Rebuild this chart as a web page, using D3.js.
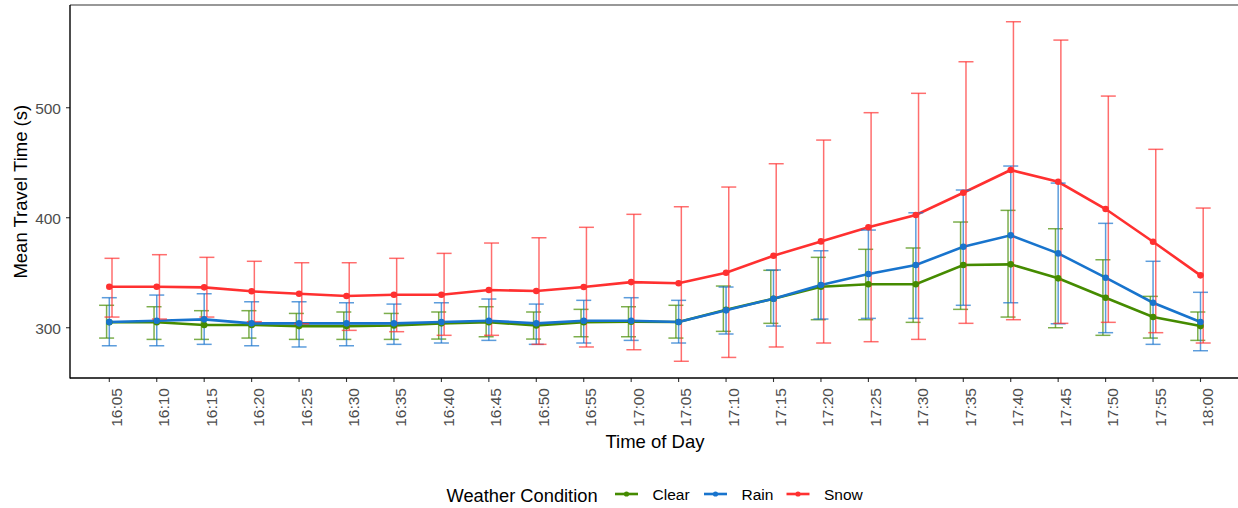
<html>
<head>
    <meta http-equiv="content-type" content="text/html; charset=UTF8">
    <script type="text/javascript" src="https://cdn.jsdelivr.net/npm/d3@7"></script>
    <style>
        body { margin: 0; background: #fff; }
        text { font-family: "Liberation Sans", Arial, sans-serif; }
    </style>
</head>
<body>
<div id="chart"></div>
<script>
    // data
    var times = ["16:05","16:10","16:15","16:20","16:25","16:30","16:35","16:40","16:45","16:50","16:55","17:00",
                 "17:05","17:10","17:15","17:20","17:25","17:30","17:35","17:40","17:45","17:50","17:55","18:00"];

    var clearMean = [305, 305, 302.5, 302.5, 301.5, 301.5, 302, 304, 305, 302, 305, 305.5,
                     305.2, 316.4, 326.4, 337.3, 339.5, 339.5, 357, 357.6, 344.9, 327.3, 309.7, 301.5];
    var clearLo   = [290.6, 289.4, 289.4, 290.6, 289.4, 289.4, 289.4, 289.7, 291.8, 289.7, 291.8, 291.8,
                     290.6, 296.7, 304, 307.3, 307.3, 304.9, 316.7, 309.7, 300, 293.1, 290.6, 288.5];
    var clearHi   = [320.4, 319.1, 315.5, 315.5, 313, 314.3, 313, 314.3, 319.1, 314.3, 316.7, 319.1,
                     320.4, 337.9, 352.2, 364, 371.3, 372.5, 396.1, 406.7, 390, 361.8, 328.5, 314.3];

    var rainMean = [305.2, 306.4, 307.6, 304, 304, 304, 304, 305.2, 306.4, 304, 306.4, 306.4,
                    305.2, 315.8, 326.4, 338.8, 348.8, 357, 373.6, 384, 367.6, 345.5, 322.7, 305.2];
    var rainLo   = [283.6, 283.6, 284.9, 283.6, 282.5, 283.6, 284.9, 286.1, 288.5, 284.9, 286.1, 288.5,
                    286.1, 294.3, 301.5, 307.9, 308.5, 308.5, 320.4, 322.7, 303.6, 295.5, 284.9, 279.1];
    var rainHi   = [327.3, 329.7, 330.9, 323.6, 323.6, 322.7, 321.5, 322.7, 326.1, 321.5, 324.9, 327.3,
                    324.9, 337, 352.5, 370, 388.8, 404.5, 425.2, 447, 431.5, 394.9, 360.4, 332.2];

    var snowMean = [337.3, 337.3, 336.7, 333.1, 330.9, 328.8, 330, 330, 334.3, 333.4, 337, 341.5,
                    340.4, 350, 365.5, 378.5, 391.3, 402.5, 422.7, 443.4, 432.7, 407.9, 378.2, 347.6];
    var snowLo   = [309.7, 307.9, 309.7, 305.5, 303.6, 297.6, 296.4, 293.1, 293.1, 284.9, 282.5, 280,
                    269.5, 273, 282.5, 286.1, 287.3, 289.4, 304, 307.3, 304, 304.9, 295.5, 286.1];
    var snowHi   = [363.1, 366.4, 364, 360.4, 359.1, 359.1, 363.1, 367.6, 377, 381.8, 391.3, 403.1,
                    410, 427.9, 449.1, 470.6, 495.5, 513.1, 541.8, 578.2, 561.5, 510.6, 462.2, 408.8];

    var conditions = ["Clear", "Rain", "Snow"];
    var yTicks = [300, 400, 500];

    // view settings (note: "top" is taken by window.top, so use other names)
    var chartW = 1238;
    var chartH = 508;
    var panelLeft = 70, panelTop = 5, panelBottom = 378;
    var colors = { Clear: "#458B00", Rain: "#1874CD", Snow: "#FF3030" };
    var dodge = { Clear: -2.7, Rain: 0, Snow: 2.7 };

    var series = [
        { name: "Clear", mean: clearMean, lo: clearLo, hi: clearHi },
        { name: "Rain",  mean: rainMean,  lo: rainLo,  hi: rainHi },
        { name: "Snow",  mean: snowMean,  lo: snowLo,  hi: snowHi }
    ];

    var x = d3.scalePoint().domain(times).range([109.3, 1200.5]);
    var y = d3.scaleLinear().domain([254.3, 593.4]).range([panelBottom, panelTop]);

    var svg = d3.select("#chart")
        .append("svg")
        .attr("width", chartW)
        .attr("height", chartH);

    // panel border (top)
    svg.append("line")
        .attr("x1", panelLeft).attr("x2", chartW + 5)
        .attr("y1", panelTop).attr("y2", panelTop)
        .attr("stroke", "#333").attr("stroke-width", 1.2);

    // x ticks + labels
    var xAxis = svg.append("g");
    xAxis.selectAll("line")
        .data(times).enter().append("line")
        .attr("x1", function(d) { return x(d); })
        .attr("x2", function(d) { return x(d); })
        .attr("y1", panelBottom).attr("y2", panelBottom + 4)
        .attr("stroke", "#333").attr("stroke-width", 1.1);
    xAxis.selectAll("text")
        .data(times).enter().append("text")
        .attr("transform", function(d) { return "translate(" + (x(d) + 12.5) + "," + 388 + ") rotate(-90)"; })
        .attr("text-anchor", "end")
        .attr("font-size", "15.5px")
        .attr("fill", "#4d4d4d")
        .text(function(d) { return d; });

    // y ticks + labels
    var yAxis = svg.append("g");
    yAxis.selectAll("line")
        .data(yTicks).enter().append("line")
        .attr("x1", panelLeft - 4).attr("x2", panelLeft)
        .attr("y1", function(d) { return y(d); })
        .attr("y2", function(d) { return y(d); })
        .attr("stroke", "#333").attr("stroke-width", 1.1);
    yAxis.selectAll("text")
        .data(yTicks).enter().append("text")
        .attr("x", panelLeft - 9)
        .attr("y", function(d) { return y(d); })
        .attr("dy", "0.42em")
        .attr("text-anchor", "end")
        .attr("font-size", "15.5px")
        .attr("fill", "#4d4d4d")
        .text(function(d) { return d; });

    svg.append("line")
        .attr("x1", panelLeft).attr("x2", panelLeft)
        .attr("y1", panelTop).attr("y2", panelBottom + 0.5)
        .attr("stroke", "#000").attr("stroke-width", 1.4);
    svg.append("line")
        .attr("x1", panelLeft).attr("x2", chartW + 5)
        .attr("y1", panelBottom).attr("y2", panelBottom)
        .attr("stroke", "#000").attr("stroke-width", 1.4);

    // titles
    svg.append("text")
        .attr("x", 655).attr("y", 448)
        .attr("text-anchor", "middle")
        .attr("font-size", "18.5px")
        .attr("fill", "#000")
        .text("Time of Day");
    svg.append("text")
        .attr("transform", "translate(26.5,191.7) rotate(-90)")
        .attr("text-anchor", "middle")
        .attr("font-size", "18.5px")
        .attr("fill", "#000")
        .text("Mean Travel Time (s)");

    var line = d3.line()
        .x(function(d, i) { return x(times[i]); })
        .y(function(d) { return y(d); });

    // lines
    svg.selectAll("path.series")
        .data(series).enter().append("path")
        .attr("class", "series")
        .attr("d", function(s) { return line(s.mean); })
        .attr("fill", "none")
        .attr("stroke", function(s) { return colors[s.name]; })
        .attr("stroke-width", 2.6);

    // error bars
    series.forEach(function(s) {
        var g = svg.append("g")
            .attr("stroke", colors[s.name])
            .attr("stroke-opacity", 0.7)
            .attr("stroke-width", 1.5);
        var bars = g.selectAll("g").data(times).enter().append("g");
        bars.append("line")
            .attr("x1", function(d) { return x(d) + dodge[s.name]; })
            .attr("x2", function(d) { return x(d) + dodge[s.name]; })
            .attr("y1", function(d, i) { return y(s.lo[i]); })
            .attr("y2", function(d, i) { return y(s.hi[i]); });
        bars.append("line")
            .attr("x1", function(d) { return x(d) + dodge[s.name] - 7.5; })
            .attr("x2", function(d) { return x(d) + dodge[s.name] + 7.5; })
            .attr("y1", function(d, i) { return y(s.hi[i]); })
            .attr("y2", function(d, i) { return y(s.hi[i]); });
        bars.append("line")
            .attr("x1", function(d) { return x(d) + dodge[s.name] - 7.5; })
            .attr("x2", function(d) { return x(d) + dodge[s.name] + 7.5; })
            .attr("y1", function(d, i) { return y(s.lo[i]); })
            .attr("y2", function(d, i) { return y(s.lo[i]); });
    });

    // points
    series.forEach(function(s) {
        svg.append("g").selectAll("circle")
            .data(s.mean).enter().append("circle")
            .attr("cx", function(d, i) { return x(times[i]); })
            .attr("cy", function(d) { return y(d); })
            .attr("r", 3.3)
            .attr("fill", colors[s.name]);
    });

    // legend
    var legend = svg.append("g");
    legend.append("text")
        .attr("x", 446.5).attr("y", 502)
        .attr("font-size", "18.3px")
        .attr("fill", "#000")
        .text("Weather Condition");
    var keyX = { Clear: 626.5, Rain: 715.5, Snow: 798 };
    conditions.forEach(function(c) {
        legend.append("line")
            .attr("x1", keyX[c] - 11.5).attr("x2", keyX[c] + 11.5)
            .attr("y1", 494).attr("y2", 494)
            .attr("stroke", colors[c]).attr("stroke-width", 2.6);
        legend.append("circle")
            .attr("cx", keyX[c]).attr("cy", 494).attr("r", 2.6)
            .attr("fill", colors[c]);
        legend.append("text")
            .attr("x", keyX[c] + 26).attr("y", 500)
            .attr("font-size", "15.5px")
            .attr("fill", "#000")
            .text(c);
    });
</script>
</body>
</html>
